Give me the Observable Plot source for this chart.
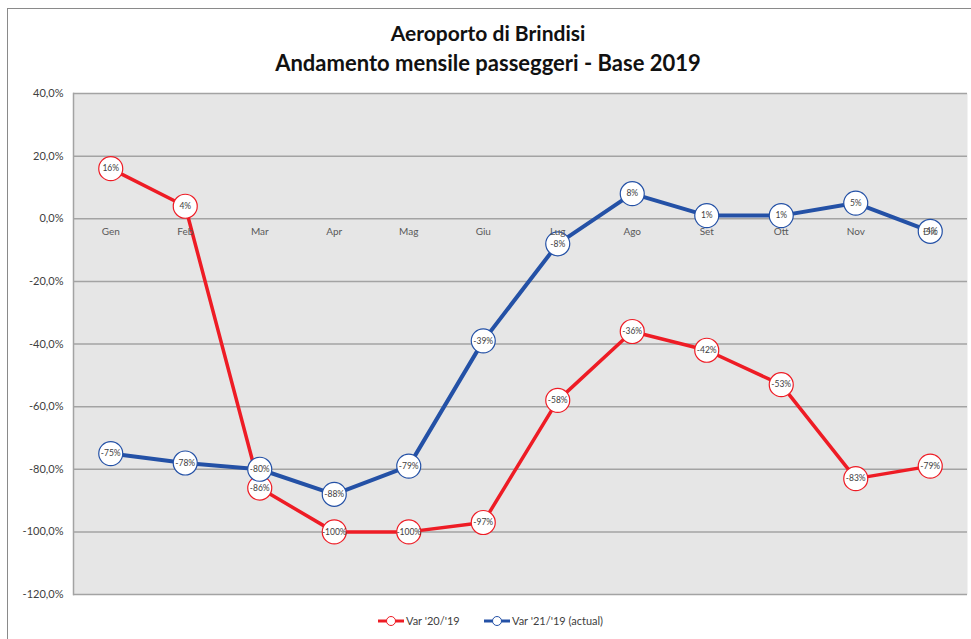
<!DOCTYPE html>
<html>
<head>
<meta charset="utf-8">
<script src="https://cdn.jsdelivr.net/npm/d3@7"></script>
<script src="https://cdn.jsdelivr.net/npm/@observablehq/plot@0.6"></script>
<style>
  html, body { margin: 0; padding: 0; background: #fff; }
  body { width: 971px; height: 639px; position: relative; overflow: hidden; font-family: Lato, "Noto Sans", sans-serif; }
  #frame { position: absolute; left: 7px; top: 8px; width: 980px; height: 700px; border-top: 1px solid #8a8a8a; border-left: 1px solid #8a8a8a; }
  #chart { position: absolute; left: 0; top: 0; }
  .title { position: absolute; left: 0; width: 976px; text-align: center; font-weight: bold; color: #111; }
  #legend { position: absolute; top: 612px; left: 0; width: 971px; height: 20px; }
</style>
</head>
<body>
<div id="frame"></div>
<div id="chart"></div>
<div class="title" style="top:20px; font-size:21px">Aeroporto di Brindisi</div>
<div class="title" style="top:49px; font-size:22px">Andamento mensile passeggeri - Base 2019</div>
<div id="legend"></div>
<script>
const months = ["Gen","Feb","Mar","Apr","Mag","Giu","Lug","Ago","Set","Ott","Nov","Dic"];
const var20 = [16, 4, -86, -100, -100, -97, -58, -36, -42, -53, -83, -79];
const var21 = [-75, -78, -80, -88, -79, -39, -8, 8, 1, 1, 5, -4];
const yTicks = [40, 20, 0, -20, -40, -60, -80, -100, -120];
const seriesNames = ["Var '20/'19", "Var '21/'19 (actual)"];
const seriesColors = ["#ee1c25", "#2451a6"];

const rows20 = months.map((m, i) => ({month: m, value: var20[i]}));
const rows21 = months.map((m, i) => ({month: m, value: var21[i]}));
const fmtTick = d => d.toFixed(1).replace(".", ",") + "%";
const fmtLabel = d => d.value + "%";

function seriesMarks(rows, color, sw) {
  return [
    Plot.line(rows, {x: "month", y: "value", stroke: color, strokeWidth: sw}),
    Plot.dot(rows, {x: "month", y: "value", r: 12, fill: "white", stroke: color, strokeWidth: 1.2}),
    Plot.text(rows, {x: "month", y: "value", text: fmtLabel, fontSize: 8.5, fill: "#404040"})
  ];
}

const chart = Plot.plot({
  width: 971,
  height: 639,
  marginTop: 93,
  marginBottom: 45,
  marginLeft: 73,
  marginRight: 4,
  style: {background: "transparent", fontFamily: "Lato, 'Noto Sans', sans-serif", color: "#595959"},
  x: {type: "point", domain: months, padding: 0.5, round: false, axis: null},
  y: {domain: [-120, 40], ticks: yTicks, tickFormat: fmtTick, tickSize: 0, tickPadding: 10, label: null},
  marks: [
    Plot.frame({fill: "#e6e6e6"}),
    Plot.ruleY(yTicks, {stroke: "#a3a3a3", strokeWidth: 1.5}),
    Plot.frame({anchor: "left", stroke: "#a3a3a3", strokeWidth: 1.5}),
    ...seriesMarks(rows20, seriesColors[0], 3.5),
    ...seriesMarks(rows21, seriesColors[1], 4),
    Plot.text(months, {x: d => d, y: d => 0, dy: 13, fontSize: 10, fill: "#595959"}),
    Plot.axisY({ticks: yTicks, tickFormat: fmtTick, tickSize: 0, tickPadding: 10, fontSize: 11, fill: "#404040", label: null})
  ]
});
document.getElementById("chart").appendChild(chart);

// legend
const lg = d3.select("#legend").append("svg").attr("width", 971).attr("height", 20)
  .style("font-family", "Lato, 'Noto Sans', sans-serif");
const items = [{x: 378, name: seriesNames[0], color: seriesColors[0]}, {x: 484, name: seriesNames[1], color: seriesColors[1]}];
items.forEach(it => {
  lg.append("line").attr("x1", it.x).attr("x2", it.x + 26).attr("y1", 9).attr("y2", 9)
    .attr("stroke", it.color).attr("stroke-width", 3);
  lg.append("circle").attr("cx", it.x + 13).attr("cy", 9).attr("r", 4.5)
    .attr("fill", "white").attr("stroke", it.color).attr("stroke-width", 1);
  lg.append("text").attr("x", it.x + 28).attr("y", 13).attr("font-size", 11).attr("fill", "#404040").text(it.name);
});
</script>
</body>
</html>
